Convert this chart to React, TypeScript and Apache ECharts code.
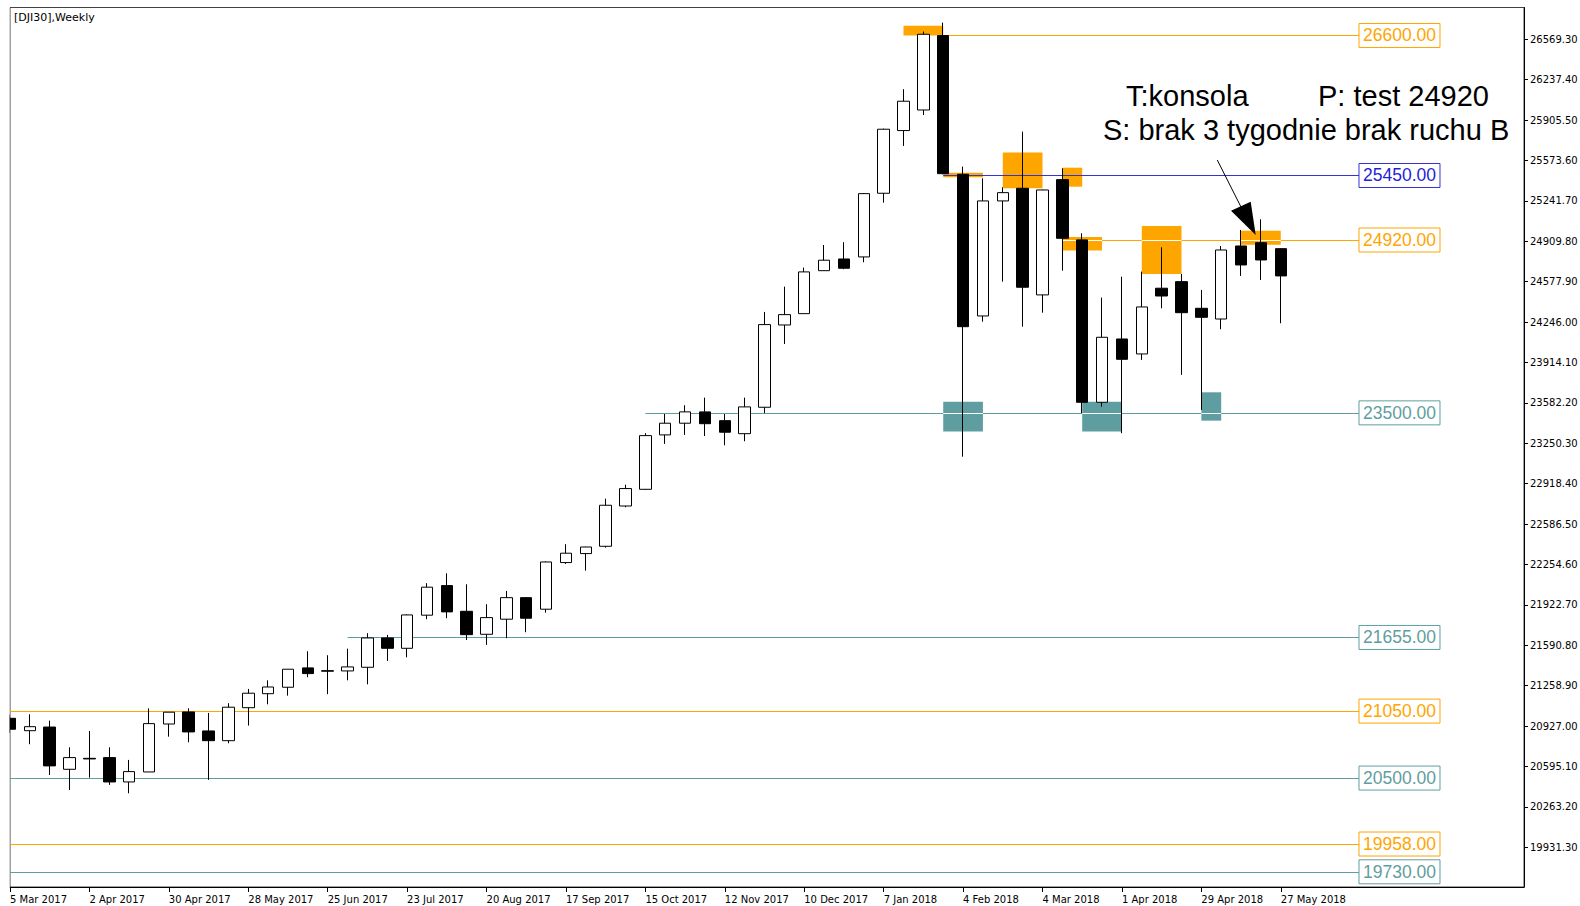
import React, { useEffect, useRef } from "react";
import * as echarts from "echarts";

// Weekly bars (week start dates)
const weeks: string[] = [
  "5 Mar 2017", "12 Mar 2017", "19 Mar 2017", "26 Mar 2017", "2 Apr 2017", "9 Apr 2017", "16 Apr 2017", "23 Apr 2017",
  "30 Apr 2017", "7 May 2017", "14 May 2017", "21 May 2017", "28 May 2017", "4 Jun 2017", "11 Jun 2017", "18 Jun 2017",
  "25 Jun 2017", "2 Jul 2017", "9 Jul 2017", "16 Jul 2017", "23 Jul 2017", "30 Jul 2017", "6 Aug 2017", "13 Aug 2017",
  "20 Aug 2017", "27 Aug 2017", "3 Sep 2017", "10 Sep 2017", "17 Sep 2017", "24 Sep 2017", "1 Oct 2017", "8 Oct 2017",
  "15 Oct 2017", "22 Oct 2017", "29 Oct 2017", "5 Nov 2017", "12 Nov 2017", "19 Nov 2017", "26 Nov 2017", "3 Dec 2017",
  "10 Dec 2017", "17 Dec 2017", "24 Dec 2017", "31 Dec 2017", "7 Jan 2018", "14 Jan 2018", "21 Jan 2018", "28 Jan 2018",
  "4 Feb 2018", "11 Feb 2018", "18 Feb 2018", "25 Feb 2018", "4 Mar 2018", "11 Mar 2018", "18 Mar 2018", "25 Mar 2018",
  "1 Apr 2018", "8 Apr 2018", "15 Apr 2018", "22 Apr 2018", "29 Apr 2018", "6 May 2018", "13 May 2018", "20 May 2018",
  "27 May 2018",
];

// [open, close, low, high]
const candles: number[][] = [
  [20991, 20901, 20870, 21020], [20889, 20922, 20778, 21024], [20919, 20600, 20525, 20972], [20572, 20668, 20402, 20753],
  [20662, 20657, 20503, 20887], [20668, 20468, 20444, 20753], [20468, 20553, 20375, 20649], [20550, 20947, 20550, 21073],
  [20944, 21041, 20840, 21041], [21043, 20879, 20794, 21073], [20887, 20807, 20485, 21035], [20807, 21082, 20786, 21115],
  [21078, 21197, 20931, 21232], [21193, 21248, 21106, 21303], [21246, 21394, 21177, 21394], [21405, 21358, 21328, 21542],
  [21382, 21378, 21189, 21509], [21380, 21413, 21303, 21563], [21410, 21651, 21270, 21690], [21651, 21566, 21462, 21676],
  [21566, 21840, 21492, 21845], [21838, 22068, 21805, 22101], [22081, 21865, 21813, 22182], [21870, 21678, 21634, 22092],
  [21681, 21818, 21594, 21928], [21805, 21982, 21649, 22037], [21982, 21813, 21698, 21985], [21887, 22275, 21859, 22280],
  [22270, 22347, 22259, 22421], [22344, 22398, 22204, 22400], [22404, 22741, 22393, 22795], [22735, 22878, 22724, 22910],
  [22872, 23313, 22867, 23333], [23319, 23415, 23245, 23491], [23415, 23508, 23319, 23563], [23508, 23411, 23310, 23625],
  [23436, 23341, 23234, 23491], [23329, 23549, 23267, 23625], [23546, 24225, 23497, 24329], [24222, 24307, 24066, 24537],
  [24315, 24658, 24315, 24693], [24668, 24754, 24668, 24879], [24764, 24688, 24680, 24902], [24781, 25301, 24737, 25305],
  [25304, 25830, 25227, 25835], [25819, 26060, 25693, 26159], [25988, 26610, 25947, 26632], [26599, 25465, 25460, 26706],
  [25460, 24208, 23140, 25523], [24296, 25241, 24249, 25427], [25241, 25309, 24578, 25353], [25345, 24532, 24208, 25810],
  [24469, 25331, 24323, 25335], [25416, 24934, 24668, 25509], [24921, 23587, 23497, 24975], [23587, 24121, 23551, 24447],
  [24107, 23940, 23333, 24619], [23984, 24370, 23935, 24660], [24524, 24460, 24359, 24860], [24578, 24323, 23812, 24641],
  [24359, 24285, 23524, 24510], [24271, 24838, 24187, 24871], [24871, 24715, 24625, 25003], [24898, 24756, 24592, 25090],
  [24849, 24625, 24236, 24852],
];

// x-axis label positions (bar index)
const xLabelIdx: number[] = [0, 4, 8, 12, 16, 20, 24, 28, 32, 36, 40, 44, 48, 52, 56, 60, 64];

// y-axis tick labels
const yTicks: number[] = [
  19931.3, 20263.2, 20595.1, 20927.0, 21258.9, 21590.8, 21922.7, 22254.6, 22586.5, 22918.4, 23250.3,
  23582.2, 23914.1, 24246.0, 24577.9, 24909.8, 25241.7, 25573.6, 25905.5, 26237.4, 26569.3,
];

// Horizontal levels: [value, startBarIndex]
const orangeLevels: number[][] = [[26600, 47], [24920, 53], [21050, 0], [19958, 0]];
const tealLevels: number[][] = [[23500, 32], [21655, 17], [20500, 0], [19730, 0]];
const blueLevels: number[][] = [[25450, 47]];

// Zones: [fromBar, toBar, low, high]
const orangeZones: number[][] = [
  [45, 47, 26600, 26680], [47, 49, 25436, 25472], [50, 52, 25345, 25638], [53, 54, 25358, 25514],
  [53, 55, 24833, 24944], [57, 59, 24641, 25035], [62, 64, 24882, 24997],
];
const tealZones: number[][] = [[47, 49, 23346, 23592], [54, 56, 23346, 23592], [60, 61, 23436, 23669]];

const ORANGE = "#FFA500";
const TEAL = "#5F9EA0";
const BLUE = "#3434d4";
const LINE_END = 67.94; // bar index where level lines meet their label boxes

export default function App() {
  const ref = useRef<HTMLDivElement>(null);
  useEffect(() => {
    if (!ref.current) return;
    const chart = echarts.init(ref.current, undefined, { renderer: "svg" });

    const levelItem = (v: number, start: number, color: string, textColor: string) => [
      {
        coord: [start, v],
        lineStyle: { color, width: 1, type: "solid" },
        label: {
          show: true,
          position: "end",
          distance: 0,
          formatter: v.toFixed(2),
          color: textColor,
          fontSize: 17.5,
          fontFamily: "Liberation Sans",
          borderColor: color,
          borderWidth: 1,
          padding: [3, 4, 1, 4],
          lineHeight: 20,
        },
      },
      { coord: [LINE_END, v] },
    ];

    const whiteItem = (v: number, a: number, b: number) => [
      { coord: [a, v], lineStyle: { color: "#ffffff", width: 1, type: "solid" }, label: { show: false } },
      { coord: [b, v] },
    ];

    const zoneItem = (z: number[], color: string) => [
      { coord: [z[0], z[3]], itemStyle: { color, opacity: 1 } },
      { coord: [z[1], z[2]] },
    ];

    const whiteSegs: any[] = [];
    orangeZones.forEach((z) => {
      if (24920 >= z[2] && 24920 <= z[3]) whiteSegs.push(whiteItem(24920, z[0], z[1]));
    });
    tealZones.forEach((z) => {
      if (23500 >= z[2] && 23500 <= z[3]) whiteSegs.push(whiteItem(23500, z[0], z[1]));
    });

    const option: any = {
      animation: false,
      backgroundColor: "#ffffff",
      title: {
        text: "[DJI30],Weekly",
        left: 14,
        top: 12,
        padding: 0,
        textStyle: { fontSize: 11, fontWeight: "normal", color: "#000", fontFamily: "DejaVu Sans" },
        z: 20,
      },
      grid: {
        left: 10,
        right: 56,
        top: 7.5,
        bottom: 19,
        show: true,
        borderColor: "#444",
        borderWidth: 1,
        backgroundColor: "#ffffff",
        outerBoundsMode: "none",
        containLabel: false,
      },
      xAxis: {
        type: "value",
        min: 0,
        max: 76.25,
        splitLine: { show: false },
        axisLine: { show: true, onZero: false, lineStyle: { color: "#000", width: 1 } },
        axisTick: { show: true, length: 5, lineStyle: { color: "#000" }, customValues: xLabelIdx },
        axisLabel: {
          show: true,
          customValues: xLabelIdx,
          formatter: (v: number) => weeks[Math.round(v)] ?? "",
          align: "left",
          margin: 7,
          fontSize: 10,
          fontFamily: "DejaVu Sans",
          color: "#000",
          showMinLabel: true,
          showMaxLabel: true,
        },
      },
      yAxis: {
        type: "value",
        position: "right",
        min: 19605,
        max: 26830,
        scale: true,
        splitLine: { show: false },
        axisLine: { show: true, onZero: false, lineStyle: { color: "#000", width: 1 } },
        axisTick: { show: true, length: 4, lineStyle: { color: "#000" }, customValues: yTicks },
        axisLabel: {
          show: true,
          customValues: yTicks,
          formatter: (v: number) => v.toFixed(2),
          margin: 6,
          fontSize: 10,
          fontFamily: "DejaVu Sans",
          color: "#000",
        },
      },
      series: [
        {
          type: "candlestick",
          z: 3,
          barWidth: 12,
          clip: true,
          data: candles.map((c, i) => [i, c[0], c[1], c[2], c[3]]),
          itemStyle: {
            color: "#ffffff",
            color0: "#000000",
            borderColor: "#000000",
            borderColor0: "#000000",
            borderColorDoji: "#000000",
            borderWidth: 1,
          },
          markArea: {
            silent: true,
            z: 1,
            data: [
              ...orangeZones.map((z) => zoneItem(z, ORANGE)),
              ...tealZones.map((z) => zoneItem(z, TEAL)),
            ],
          },
          markLine: {
            silent: true,
            z: 2,
            symbol: ["none", "none"],
            data: [
              ...orangeLevels.map((l) => levelItem(l[0], l[1], ORANGE, ORANGE)),
              ...tealLevels.map((l) => levelItem(l[0], l[1], TEAL, TEAL)),
              ...blueLevels.map((l) => levelItem(l[0], l[1], BLUE, "#1f1fd6")),
              ...whiteSegs,
            ],
          },
        },
      ],
      graphic: [
        {
          type: "rect",
          shape: { x: 0, y: 0, width: 9.5, height: 906 },
          style: { fill: "#ffffff" },
          z: 15,
          silent: true,
        },
        {
          type: "text",
          x: 1126,
          y: 96,
          style: { text: "T:konsola", font: '29px "Liberation Sans"', fill: "#000", textVerticalAlign: "middle" },
        },
        {
          type: "text",
          x: 1318,
          y: 96,
          style: { text: "P: test 24920", font: '29px "Liberation Sans"', fill: "#000", textVerticalAlign: "middle" },
        },
        {
          type: "text",
          x: 1103,
          y: 130,
          style: {
            text: "S: brak 3 tygodnie brak ruchu B",
            font: '29px "Liberation Sans"',
            fill: "#000",
            textVerticalAlign: "middle",
          },
        },
        {
          type: "line",
          shape: { x1: 1217.3, y1: 160, x2: 1241, y2: 207 },
          style: { stroke: "#000", lineWidth: 1 },
          z: 10,
        },
        {
          type: "polygon",
          shape: { points: [[1231, 210.7], [1250.7, 201.7], [1255.7, 235]] },
          style: { fill: "#000" },
          z: 10,
        },
      ],
    };
    chart.setOption(option);
    return () => chart.dispose();
  }, []);
  return (
    <div
      ref={ref}
      style={{ position: "fixed", left: 0, top: 0, width: 1580, height: 906, background: "#fff" }}
    />
  );
}
